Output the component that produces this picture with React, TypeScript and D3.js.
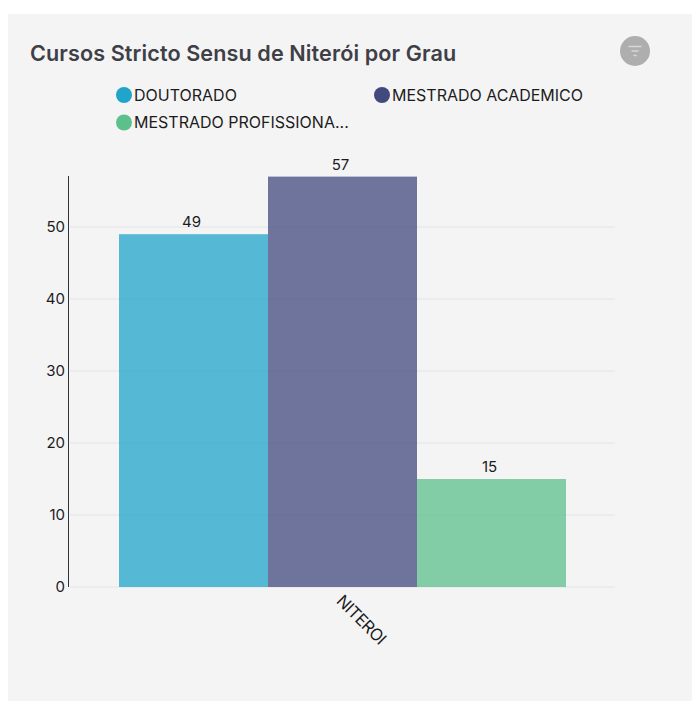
import React from "react";
import * as d3 from "d3";

const categories = ["NITEROI"];
const seriesNames = ["DOUTORADO", "MESTRADO ACADEMICO", "MESTRADO PROFISSIONAL"];
const seriesLegendLabels = ["DOUTORADO", "MESTRADO ACADEMICO", "MESTRADO PROFISSIONA..."];
const seriesValues = [49, 57, 15];
const seriesColors = ["#20a4c9", "#424a7d", "#5cc08a"];
const yTicks = [0, 10, 20, 30, 40, 50];

const W = 692, H = 701;
const FONT = "Inter, 'Liberation Sans', sans-serif";

export default function App() {
  const y = d3.scaleLinear().domain([0, 57]).range([587, 176.6]);
  const x0 = d3.scaleBand().domain(categories).range([119, 566]);
  const x1 = d3.scaleBand().domain(seriesNames).range([0, x0.bandwidth()]);
  const cx = x0("NITEROI")! + x0.bandwidth() / 2;
  const legend = [
    { x: 124, y: 95 },
    { x: 382, y: 95 },
    { x: 124, y: 122.5 },
  ];
  return (
    <svg width={W} height={H} viewBox={`0 0 ${W} ${H}`}
      style={{ position: "fixed", left: 0, top: 0, background: "#fff", fontFamily: FONT }}>
      <rect x={8} y={14} width={684} height={687} fill="#f4f4f5" />
      <text x={30} y={61} fontSize={21.6} fontWeight={600} letterSpacing={0.1} fill="#3f3f46">Cursos Stricto Sensu de Niterói por Grau</text>

      <circle cx={635} cy={51} r={15} fill="#aeaeae" />
      <g stroke="#d8d8d8" strokeLinecap="round" strokeWidth={1.5}>
        <line x1={629} x2={641} y1={46.5} y2={46.5} />
        <line x1={632} x2={638} y1={51} y2={51} />
        <line x1={634} x2={636} y1={55.5} y2={55.5} />
      </g>

      {seriesLegendLabels.map((s, i) => (
        <g key={s}>
          <circle cx={legend[i].x} cy={legend[i].y} r={8} fill={seriesColors[i]} />
          <text x={legend[i].x + 10} y={legend[i].y + 5.5} fontSize={16} fill="#1c1c1c">{s}</text>
        </g>
      ))}

      {yTicks.map((t) => (
        <g key={t}>
          <line x1={70} x2={615} y1={y(t)} y2={y(t)} stroke="#e4e4e6" strokeWidth={1} />
          <text x={65} y={y(t) + 4.5} textAnchor="end" fontSize={15} fill="#1c1c1c">{t}</text>
        </g>
      ))}
      <line x1={68.5} x2={68.5} y1={176} y2={587} stroke="#333" strokeWidth={1} />

      {seriesNames.map((s, i) => {
        const bx = x0("NITEROI")! + x1(s)!;
        const v = seriesValues[i];
        return (
          <g key={s}>
            <rect x={bx} y={y(v)} width={x1.bandwidth()} height={y(0) - y(v)} fill={seriesColors[i]} fillOpacity={0.75} />
            <text x={bx + x1.bandwidth() / 2 - 2} y={y(v) - 7} textAnchor="middle" fontSize={15} fill="#1c1c1c">{v}</text>
          </g>
        );
      })}

      <text transform={`translate(${cx - 7},${602}) rotate(45)`} fontSize={16.5} fill="#1c1c1c" letterSpacing={-0.5}>{categories[0]}</text>
    </svg>
  );
}
